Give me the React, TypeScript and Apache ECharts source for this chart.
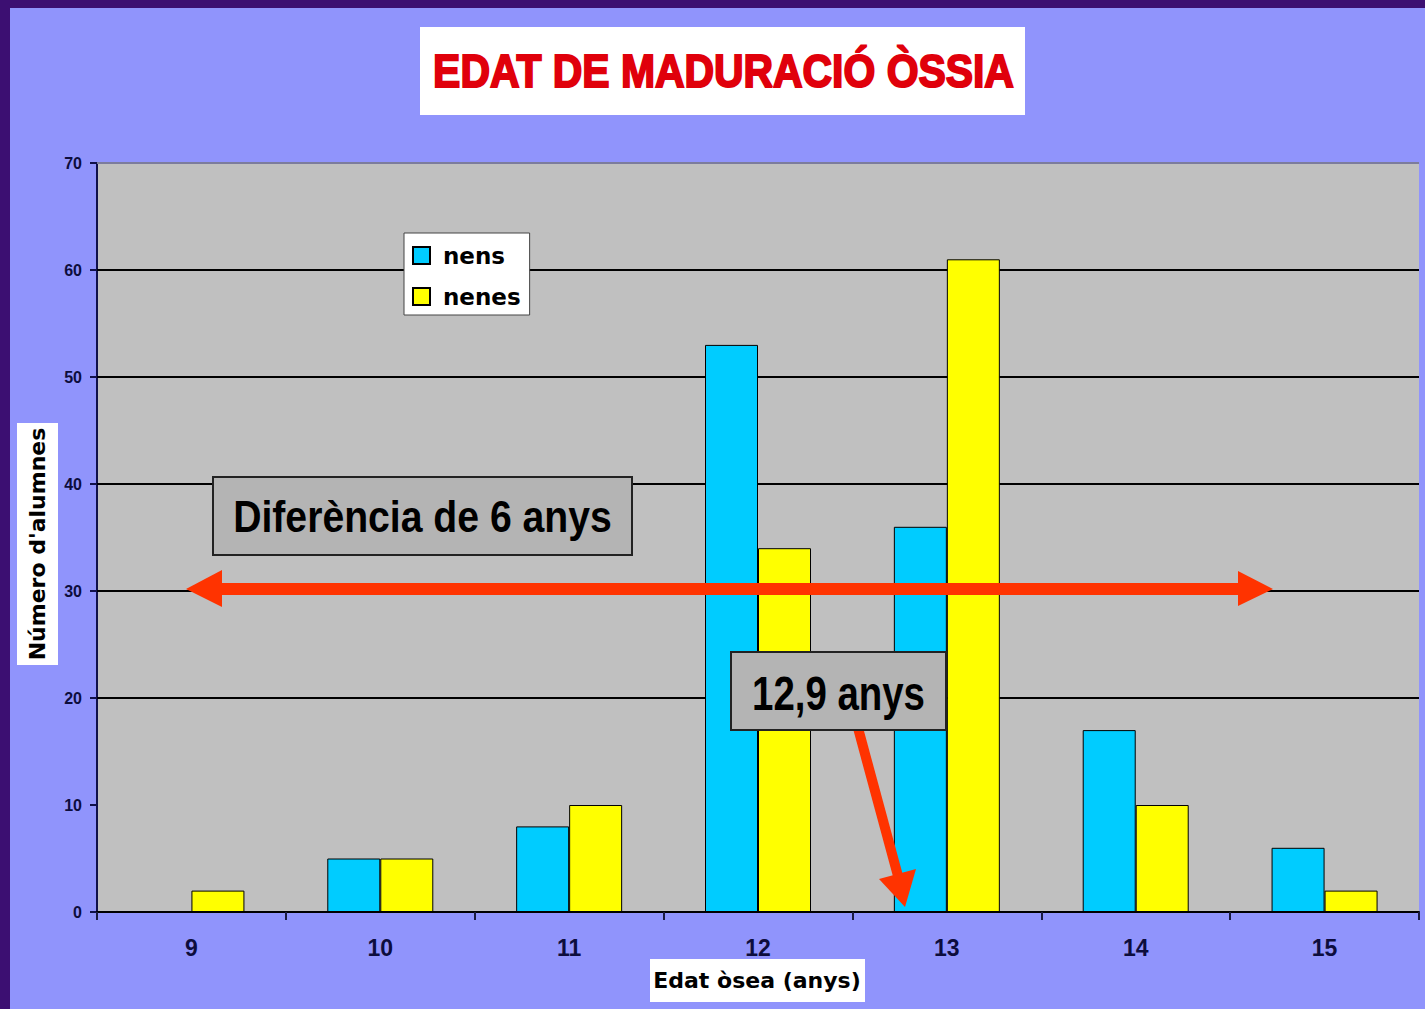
import React, { useEffect, useRef } from 'react';
import * as echarts from 'echarts';

const categories = ['9', '10', '11', '12', '13', '14', '15'];
const nens = [0, 5, 8, 53, 36, 17, 6];
const nenes = [2, 5, 10, 34, 61, 10, 2];
const seriesNames = ['nens', 'nenes'];
const yMin = 0;
const yMax = 70;
const yStep = 10;
const gridValues = [20, 30, 40, 50, 60];

const titleText = 'EDAT DE MADURACIÓ ÒSSIA';
const xName = 'Edat òsea (anys)';
const yName = "Número d'alumnes";
const note1 = 'Diferència de 6 anys';
const note2 = '12,9 anys';

const RED = '#ff3300';

export default function App() {
  const ref = useRef<HTMLDivElement>(null);
  useEffect(() => {
    if (!ref.current) return;
    const chart = echarts.init(ref.current, undefined, { renderer: 'svg' });
    const gridLineData: any[] = gridValues.map((v) => ({ yAxis: v }));
    gridLineData.push({ yAxis: yMax, lineStyle: { color: '#7c7c9c', width: 2, type: 'solid' } });
    const option: any = {
      animation: false,
      backgroundColor: 'transparent',
      grid: {
        left: 97,
        top: 163,
        right: 6,
        bottom: 97,
        show: true,
        backgroundColor: '#c0c0c0',
        borderWidth: 0,
      },
      legend: {
        orient: 'vertical',
        left: 404,
        top: 233,
        data: seriesNames,
        backgroundColor: '#ffffff',
        borderColor: '#444444',
        borderWidth: 1,
        padding: [11, 9, 7, 8],
        itemGap: 18,
        itemWidth: 17,
        itemHeight: 17,
        icon: 'rect',
        textStyle: {
          fontFamily: 'DejaVu Sans',
          fontWeight: 'bold',
          fontSize: 23,
          color: '#000',
          padding: [0, 0, 0, 8],
        },
      },
      xAxis: {
        type: 'category',
        data: categories,
        axisLine: { show: true, lineStyle: { color: '#000', width: 2 } },
        axisTick: { show: true, length: 8, lineStyle: { color: '#1a1a40', width: 2 } },
        axisLabel: {
          margin: 24,
          fontFamily: 'Liberation Sans',
          fontWeight: 'bold',
          fontSize: 23,
          color: '#0d0d3d',
        },
        splitLine: { show: false },
        z: 5,
      },
      yAxis: {
        type: 'value',
        min: yMin,
        max: yMax,
        interval: yStep,
        axisLine: { show: true, lineStyle: { color: '#10104a', width: 2 } },
        axisTick: { show: true, length: 7, lineStyle: { color: '#10104a', width: 2 } },
        axisLabel: {
          margin: 15,
          fontFamily: 'Liberation Sans',
          fontWeight: 'bold',
          fontSize: 16,
          color: '#0d0d3d',
        },
        splitLine: { show: false },
      },
      series: [
        {
          name: seriesNames[0],
          type: 'bar',
          data: nens,
          barWidth: 53,
          barGap: '0%',
          z: 2,
          itemStyle: { color: '#00ccff', borderColor: '#000', borderWidth: 1 },
          markLine: {
            silent: true,
            z: 1,
            symbol: ['none', 'none'],
            label: { show: false },
            lineStyle: { color: '#000', width: 2, type: 'solid' },
            data: gridLineData,
          },
        },
        {
          name: seriesNames[1],
          type: 'bar',
          data: nenes,
          barWidth: 53,
          barGap: '0%',
          z: 2,
          itemStyle: { color: '#ffff00', borderColor: '#000', borderWidth: 1 },
        },
      ],
      graphic: [
        // title box
        { type: 'rect', shape: { x: 420, y: 27, width: 605, height: 88 }, style: { fill: '#ffffff' }, z: 10 },
        {
          type: 'text', x: 723.5, y: 70, scaleX: 0.87, z: 11,
          style: {
            text: titleText, x: 0, y: 0, align: 'center', verticalAlign: 'middle',
            fontFamily: 'Liberation Sans', fontWeight: 'bold', fontSize: 47,
            fill: '#e0000b', stroke: '#e0000b', lineWidth: 2,
          },
        },
        // y axis name
        { type: 'rect', shape: { x: 17, y: 423, width: 41, height: 242 }, style: { fill: '#ffffff' }, z: 10 },
        {
          type: 'text', x: 37, y: 544, rotation: Math.PI / 2, z: 11,
          style: {
            text: yName, x: 0, y: 0, align: 'center', verticalAlign: 'middle',
            fontFamily: 'DejaVu Sans', fontWeight: 'bold', fontSize: 22, fill: '#000',
          },
        },
        // x axis name
        { type: 'rect', shape: { x: 650, y: 959, width: 215, height: 43 }, style: { fill: '#ffffff' }, z: 10 },
        {
          type: 'text', x: 757, y: 980, z: 11,
          style: {
            text: xName, x: 0, y: 0, align: 'center', verticalAlign: 'middle',
            fontFamily: 'DejaVu Sans', fontWeight: 'bold', fontSize: 22, fill: '#000',
          },
        },
        // horizontal double arrow
        { type: 'rect', shape: { x: 220, y: 583, width: 1020, height: 12 }, style: { fill: RED }, z: 12 },
        { type: 'polygon', shape: { points: [[186, 589], [222, 570], [222, 607]] }, style: { fill: RED }, z: 12 },
        { type: 'polygon', shape: { points: [[1273, 589], [1238, 571], [1238, 606]] }, style: { fill: RED }, z: 12 },
        // note 1
        {
          type: 'rect', shape: { x: 213, y: 477, width: 419, height: 78 },
          style: { fill: '#b4b4b4', stroke: '#222', lineWidth: 2 }, z: 13,
        },
        {
          type: 'text', x: 422.5, y: 517, scaleX: 0.89, z: 14,
          style: {
            text: note1, x: 0, y: 0, align: 'center', verticalAlign: 'middle',
            fontFamily: 'Liberation Sans', fontWeight: 'bold', fontSize: 44, fill: '#000',
          },
        },
        // diagonal arrow
        { type: 'line', shape: { x1: 858, y1: 728, x2: 898, y2: 876 }, style: { stroke: RED, lineWidth: 10 }, z: 12 },
        { type: 'polygon', shape: { points: [[905, 907], [879, 879], [916, 869]] }, style: { fill: RED }, z: 12 },
        // note 2
        {
          type: 'rect', shape: { x: 731, y: 652, width: 215, height: 78 },
          style: { fill: '#b4b4b4', stroke: '#222', lineWidth: 2 }, z: 13,
        },
        {
          type: 'text', x: 838.5, y: 693, scaleX: 0.8, z: 14,
          style: {
            text: note2, x: 0, y: 0, align: 'center', verticalAlign: 'middle',
            fontFamily: 'Liberation Sans', fontWeight: 'bold', fontSize: 48, fill: '#000',
          },
        },
      ],
    };
    chart.setOption(option);
    return () => chart.dispose();
  }, []);

  return (
    <div style={{ position: 'fixed', left: 0, top: 0, width: 1425, height: 1009, background: '#3c0f72', overflow: 'hidden' }}>
      <div style={{ position: 'absolute', left: 10, top: 8, width: 1415, height: 1001, background: '#9094fc' }} />
      <div ref={ref} style={{ position: 'absolute', left: 0, top: 0, width: 1425, height: 1009 }} />
    </div>
  );
}
